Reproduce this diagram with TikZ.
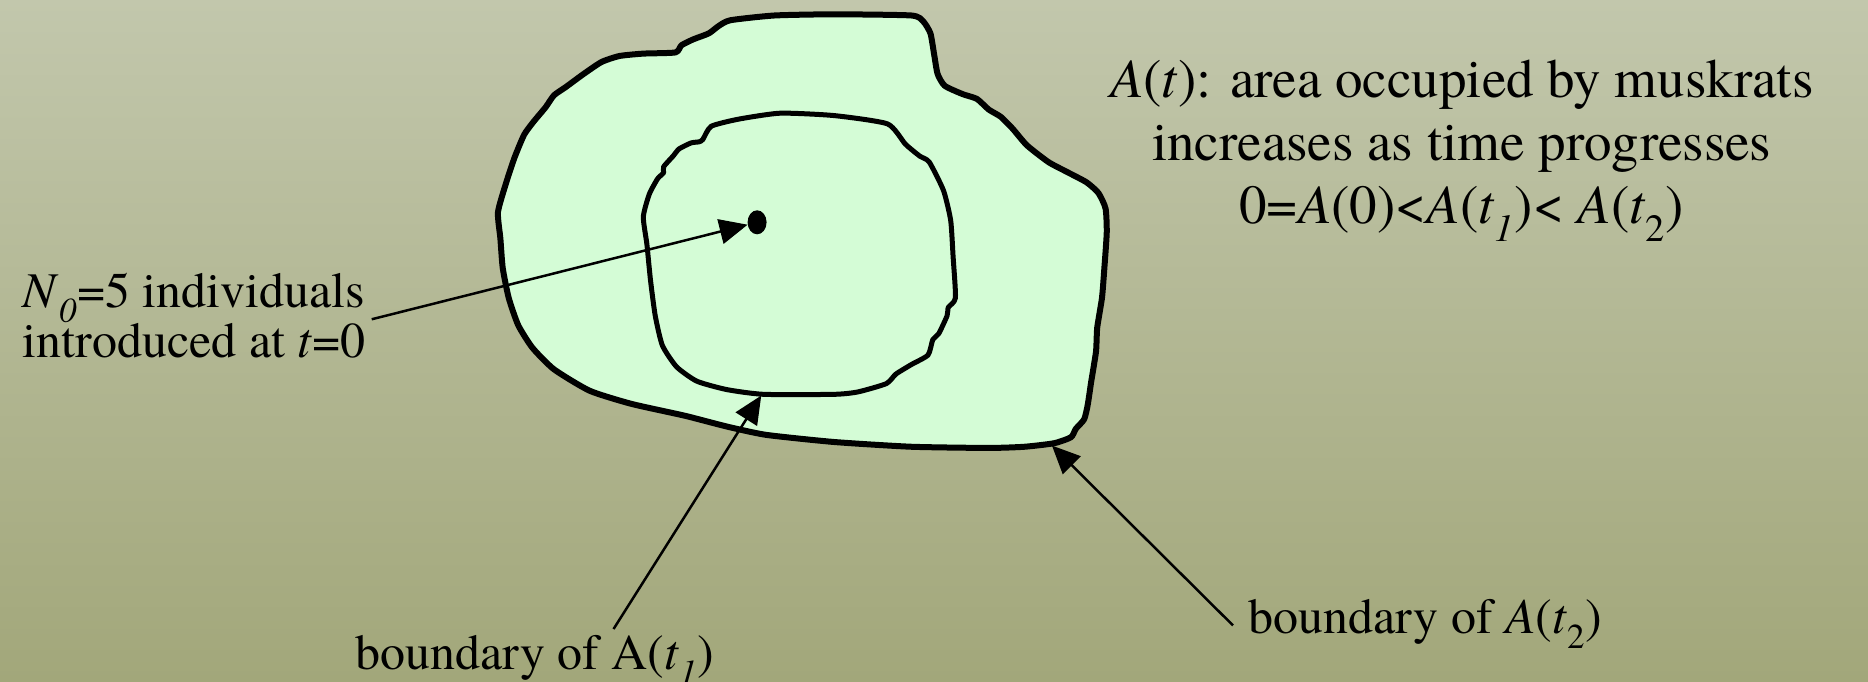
\documentclass[tikz,border=0pt]{standalone}
\usepackage{fontspec}
\setmainfont{TeX Gyre Termes}
\usetikzlibrary{arrows.meta,shapes.geometric}
\definecolor{bgtop}{RGB}{194,199,172}
\definecolor{bgbot}{RGB}{162,167,122}
\definecolor{areafill}{RGB}{212,252,214}
\tikzset{
  lbl/.style={font=\fontsize{50}{62}\selectfont, inner sep=0pt, anchor=base west},
  big/.style={font=\fontsize{55}{63}\selectfont, inner sep=0pt, anchor=base},
  outerb/.style={line width=6pt, line join=round, fill=areafill},
  innerb/.style={line width=5pt, line join=round},
  ptr/.style={line width=2.5pt, -{Triangle[length=28pt,width=25pt]}},
}
\newcommand{\subi}[1]{\textsubscript{\textit{#1}}}
\begin{document}
\begin{tikzpicture}[x=1.1913pt,y=-1.1913pt]
\shade[top color=bgtop,bottom color=bgbot] (0,0) rectangle (1568,572);
\useasboundingbox (0,0) rectangle (1568,572);
% outer boundary A(t2)
\draw[outerb] plot[smooth cycle,tension=0.35] coordinates {
 (650,13) (700,12) (765,13) (775,18) (781,28) (784,45) (787,62) (793,72) (808,79)
 (820,83) (830,92) (840,98) (850,108) (862,122) (880,136) (895,144) (912,153)
 (922,162) (928,175) (929,195) (927,225) (925,250) (921,275) (920,295) (916,320)
 (913,340) (910,352) (903,360) (899,367) (885,372) (860,375) (830,376) (765,375)
 (700,371) (643,365) (610,358) (575,349) (530,339) (495,328) (465,310) (447,292)
 (435,273) (427,250) (422,225) (420,200) (418,178) (425,153) (432,132) (440,113)
 (448,102) (458,90) (465,80) (475,73) (490,62) (505,52) (520,47) (540,45) (567,44)
 (572,38) (582,33) (595,28) (603,22) (613,17)};
% inner boundary A(t1)
\draw[innerb] plot[smooth cycle,tension=0.35] coordinates {
 (655,95) (700,97) (745,104) (760,121) (772,131) (780,136) (792,160) (798,185)
 (800,215) (802,250) (796,258) (795,265) (788,280) (783,285) (779,298) (765,306)
 (752,314) (744,322) (720,329) (700,331) (641,331) (610,327) (585,320) (568,308)
 (556,290) (550,265) (546,235) (543,205) (540,182) (545,163) (552,150) (557,145)
 (557,140) (565,131) (570,125) (580,120) (587,119) (590,117) (597,106) (620,100)};
% initial population
\node[ellipse, fill=black, inner sep=0pt, minimum width=19pt, minimum height=24pt] (dot) at (635.5,186.6) {};
% texts
\node[big] (l1) at (1227,82) {\textit{A}(\textit{t}): area occupied by muskrats};
\node[big] (l2) at (1227,135) {increases as time progresses};
\node[big] (l3) at (1227,188) {0=\textit{A}(0)<\textit{A}(\textit{t}\subi{1})< \textit{A}(\textit{t}\textsubscript{2})};
\node[lbl] (n0a) at (19,258) {\textit{N}\subi{0}=5 individuals};
\node[lbl] (n0b) at (19,300) {introduced at \textit{t}=0};
\node[lbl] (b1) at (298,562) {boundary of A(\textit{t}\subi{1})};
\node[lbl] (b2) at (1048,532) {boundary of \textit{A}(\textit{t}\textsubscript{2})};
% connector ends
\coordinate (s0) at (312,268);
\coordinate (s1) at (515,528);
\coordinate (e1) at (639,332);
\coordinate (s2) at (1035,525);
\coordinate (e2) at (883,374);
\draw[ptr] (s0) -- (dot);
\draw[ptr] (s1) -- (e1);
\draw[ptr] (s2) -- (e2);
\end{tikzpicture}
\end{document}
